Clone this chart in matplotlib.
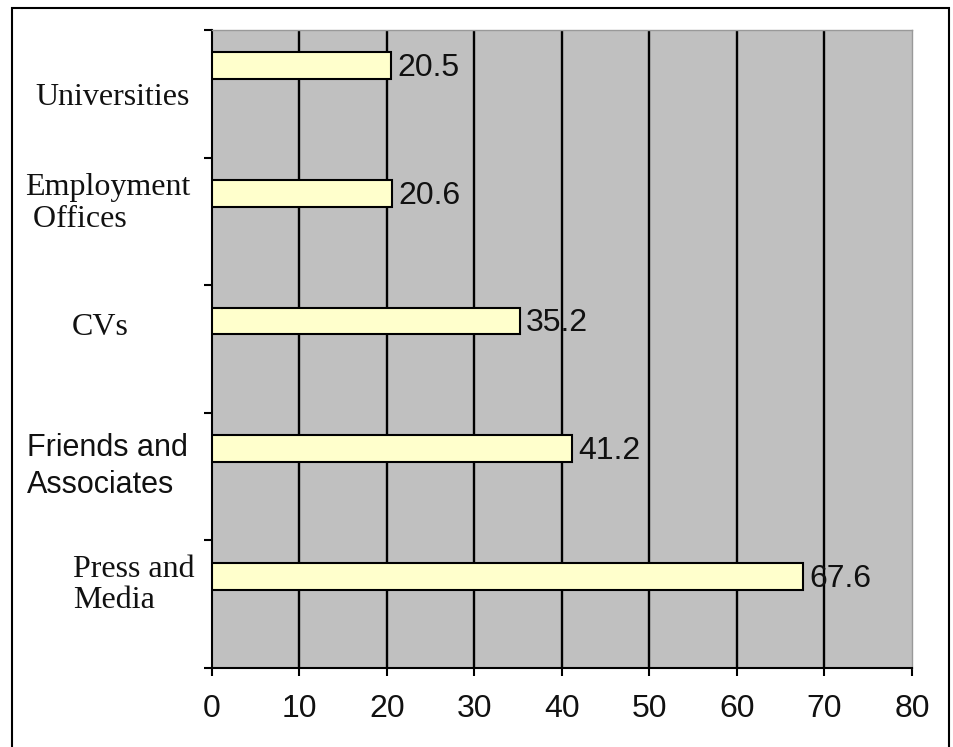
import matplotlib.pyplot as plt
from matplotlib.patches import Rectangle
from matplotlib.transforms import blended_transform_factory

# bottom-to-top order
sources = ['Press and\nMedia', 'Friends and\nAssociates', 'CVs',
           'Employment\n Offices', 'Universities']
shares = [67.6, 41.2, 35.2, 20.6, 20.5]
x_ticks = [0, 10, 20, 30, 40, 50, 60, 70, 80]

# label placement: left edge (figure px) and vertical nudge (data units)
label_left_px = [73, 27, 72, 25, 35]
label_nudge = [0.15, 0.08, 0.17, 0.14, -0.03]
label_family = ['Liberation Serif', 'Liberation Sans', 'Liberation Serif',
                'Liberation Serif', 'Liberation Serif']

W, H = 954, 747
fig = plt.figure(figsize=(W / 100, H / 100), dpi=100)
ax = fig.add_axes([212 / W, 79 / H, 700 / W, 638 / H])
ax.set_facecolor('#c0c0c0')

pos = range(len(sources))
bar_shift = 0.22
ax.barh([p + bar_shift for p in pos], shares, height=0.21,
        color='#ffffcc', edgecolor='black', linewidth=1.5, zorder=3)

for p, v in zip(pos, shares):
    ax.text(v + 0.7, p + bar_shift - 0.02, f'{v}', va='center', ha='left',
            fontsize=23, family='Liberation Sans', color='#111111', zorder=4)

ax.set_xlim(0, 80)
ax.set_ylim(-0.5, len(sources) - 0.5)
ax.set_xticks(x_ticks)
ax.set_xticklabels([str(t) for t in x_ticks], fontsize=23,
                   family='Liberation Sans', color='#111111')
ax.set_yticks([p - 0.5 for p in range(len(sources) + 1)])
ax.set_yticklabels([])
ax.tick_params(axis='x', direction='out', length=6, width=1.5, pad=13)
ax.tick_params(axis='y', direction='out', length=6, width=1.5)

ax.grid(axis='x', color='black', linewidth=1.7, zorder=1)
ax.set_axisbelow(True)
ax.get_xgridlines()[0].set_visible(False)
ax.get_xgridlines()[-1].set_visible(False)

for side in ['left', 'bottom']:
    ax.spines[side].set_linewidth(1.5)
    ax.spines[side].set_color('black')
for side in ['top', 'right']:
    ax.spines[side].set_linewidth(1)
    ax.spines[side].set_color('#999999')

# category names sit left of the plot, each placed by hand
label_trans = blended_transform_factory(fig.transFigure, ax.transData)
for p, name, lx, dy, fam in zip(pos, sources, label_left_px, label_nudge, label_family):
    serif = fam == 'Liberation Serif'
    ax.text(lx / W, p + dy, name, ha='left', va='center',
            fontsize=23 if serif else 22, family=fam, color='#111111',
            linespacing=1.12 if serif else 1.3, transform=label_trans)

# outer frame
fig.add_artist(Rectangle((12 / W, -0.05), (949 - 12) / W, (H - 8) / H + 0.05,
                         transform=fig.transFigure, fill=False,
                         edgecolor='black', linewidth=1.5, clip_on=False))

fig.savefig('out.png', dpi=100)
